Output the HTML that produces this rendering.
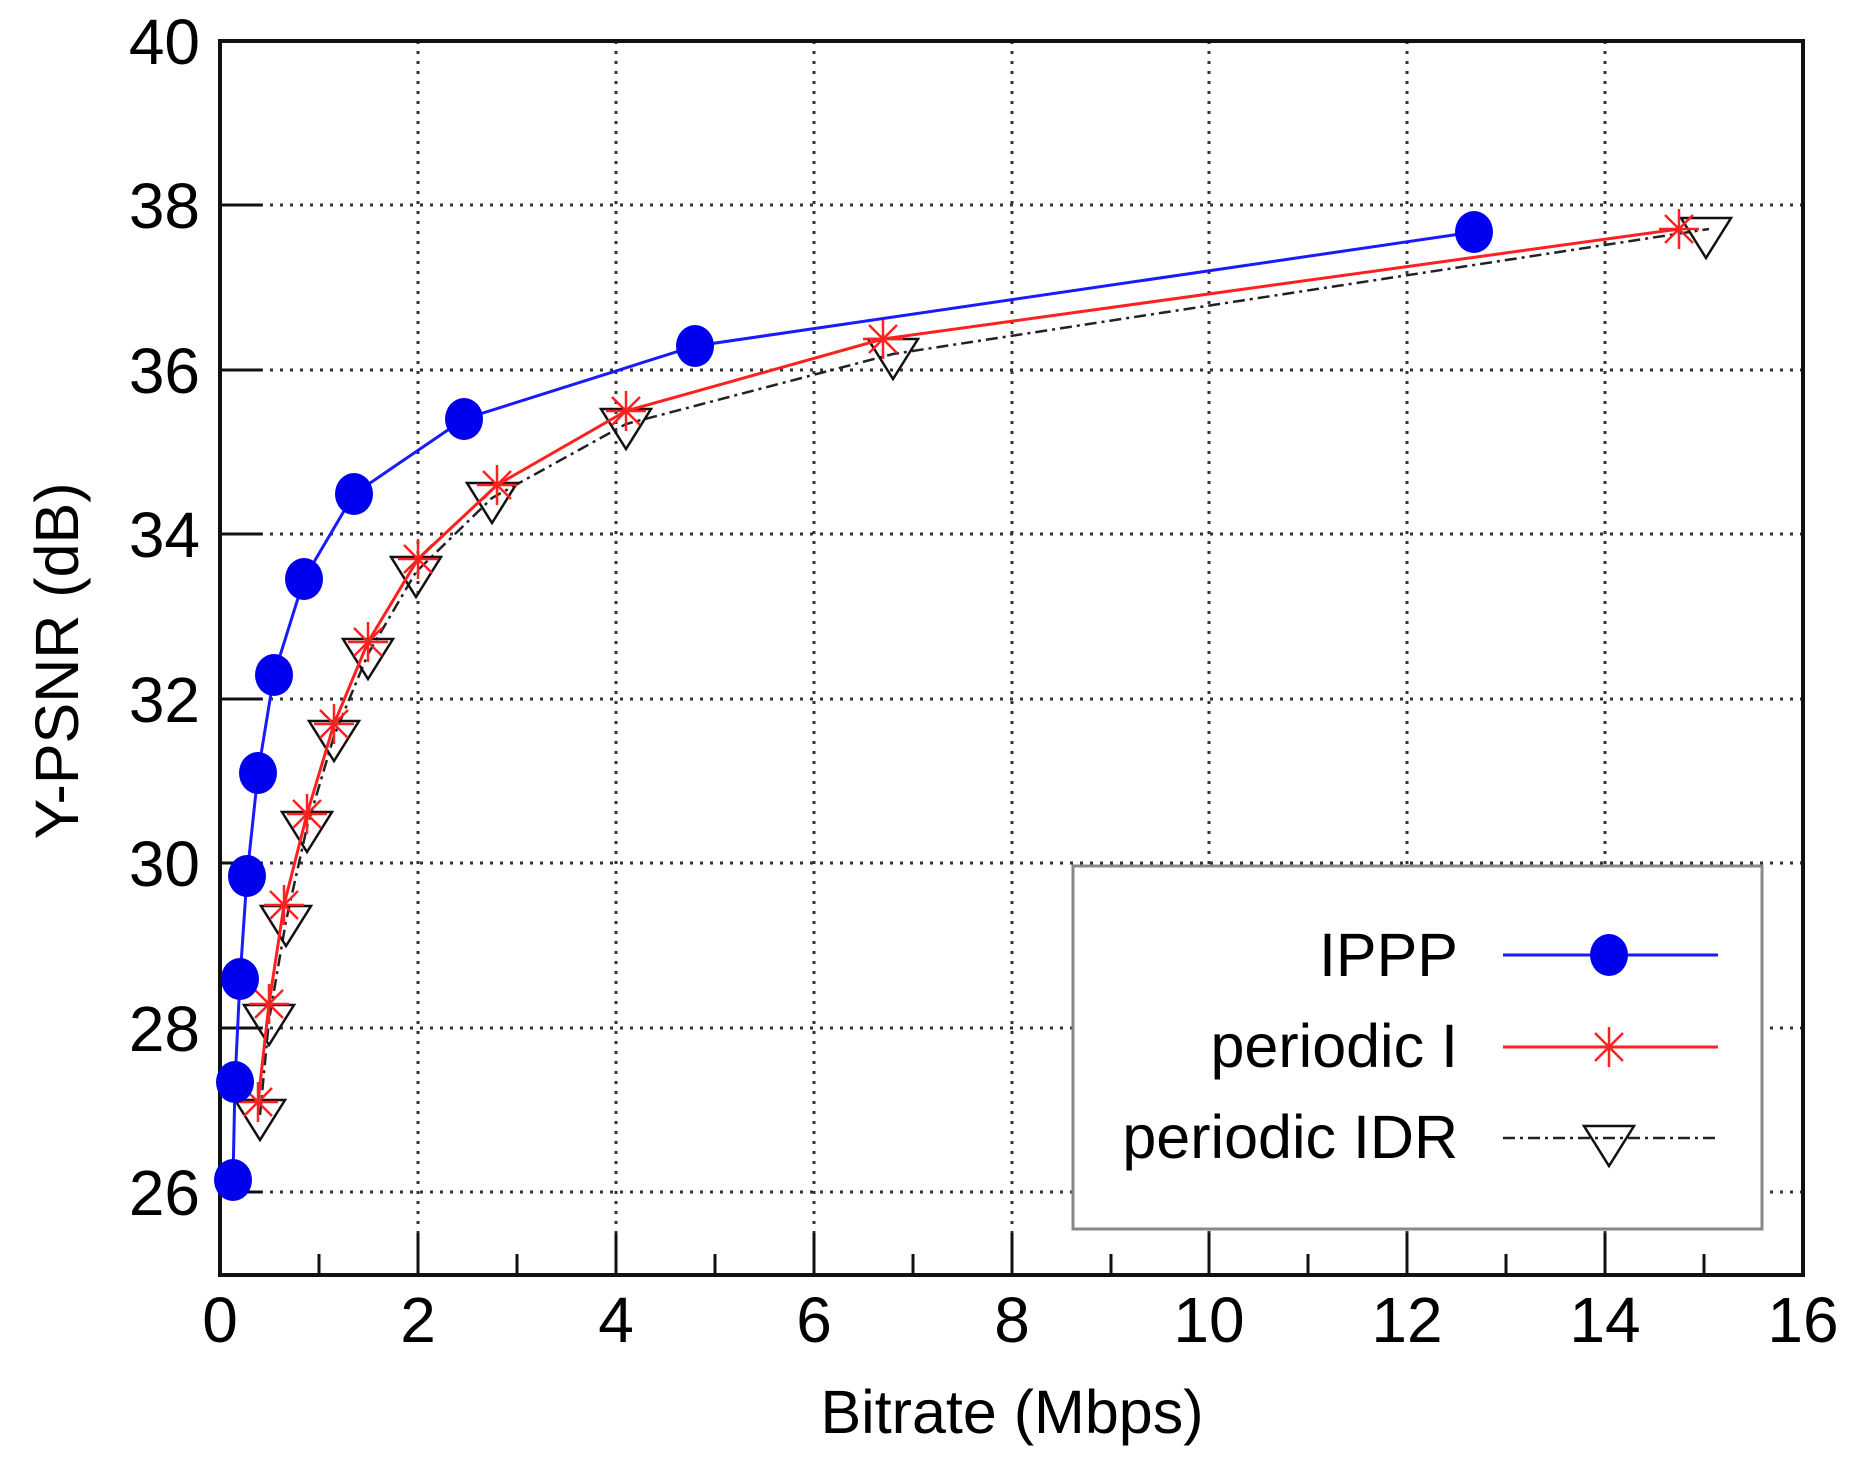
<!DOCTYPE html>
<html><head><meta charset="utf-8"><style>
html,body{margin:0;padding:0;background:#fff;}
svg{display:block;font-family:"Liberation Sans",Arial,sans-serif;}
</style></head><body>
<svg width="1857" height="1483" viewBox="0 0 1857 1483" xmlns="http://www.w3.org/2000/svg">
<defs>
<g id="star"><g stroke="#ff2020" stroke-width="2.5" fill="none"><line x1="-20" y1="0" x2="20" y2="0"/><line x1="0" y1="-20" x2="0" y2="20"/><line x1="-14" y1="-14" x2="14" y2="14"/><line x1="-14" y1="14" x2="14" y2="-14"/></g></g>
<g id="tri"><polygon points="-25,-15 25,-15 0,25" fill="none" stroke="#111" stroke-width="2.5"/></g>
</defs>
<rect width="1857" height="1483" fill="#fff"/>
<g id="grid" stroke="#333" stroke-width="3" stroke-dasharray="3 7" fill="none">
<line x1="418" y1="41" x2="418" y2="1275"/><line x1="616" y1="41" x2="616" y2="1275"/><line x1="814" y1="41" x2="814" y2="1275"/><line x1="1012" y1="41" x2="1012" y2="1275"/><line x1="1209" y1="41" x2="1209" y2="1275"/><line x1="1407" y1="41" x2="1407" y2="1275"/><line x1="1605" y1="41" x2="1605" y2="1275"/>
<line x1="220" y1="205" x2="1803" y2="205"/><line x1="220" y1="370" x2="1803" y2="370"/><line x1="220" y1="534" x2="1803" y2="534"/><line x1="220" y1="699" x2="1803" y2="699"/><line x1="220" y1="863" x2="1803" y2="863"/><line x1="220" y1="1028" x2="1803" y2="1028"/><line x1="220" y1="1192" x2="1803" y2="1192"/>
</g>
<g stroke="#111" stroke-width="3">
<line x1="220" y1="205" x2="262" y2="205"/><line x1="220" y1="370" x2="262" y2="370"/><line x1="220" y1="534" x2="262" y2="534"/><line x1="220" y1="699" x2="262" y2="699"/><line x1="220" y1="863" x2="262" y2="863"/><line x1="220" y1="1028" x2="262" y2="1028"/><line x1="220" y1="1192" x2="262" y2="1192"/>
<line x1="418" y1="1275" x2="418" y2="1233"/><line x1="616" y1="1275" x2="616" y2="1233"/><line x1="814" y1="1275" x2="814" y2="1233"/><line x1="1012" y1="1275" x2="1012" y2="1233"/><line x1="1209" y1="1275" x2="1209" y2="1233"/><line x1="1407" y1="1275" x2="1407" y2="1233"/><line x1="1605" y1="1275" x2="1605" y2="1233"/>
<line x1="319" y1="1275" x2="319" y2="1254"/><line x1="517" y1="1275" x2="517" y2="1254"/><line x1="715" y1="1275" x2="715" y2="1254"/><line x1="913" y1="1275" x2="913" y2="1254"/><line x1="1111" y1="1275" x2="1111" y2="1254"/><line x1="1308" y1="1275" x2="1308" y2="1254"/><line x1="1506" y1="1275" x2="1506" y2="1254"/><line x1="1704" y1="1275" x2="1704" y2="1254"/>
</g>
<rect x="220" y="41" width="1583" height="1234" fill="none" stroke="#111" stroke-width="4"/>
<g font-size="64" fill="#000" text-anchor="end">
<text x="200" y="64">40</text><text x="200" y="228">38</text><text x="200" y="393">36</text><text x="200" y="557">34</text><text x="200" y="722">32</text><text x="200" y="886">30</text><text x="200" y="1051">28</text><text x="200" y="1215">26</text>
</g>
<g font-size="64" fill="#000" text-anchor="middle">
<text x="220" y="1342">0</text><text x="418" y="1342">2</text><text x="616" y="1342">4</text><text x="814" y="1342">6</text><text x="1012" y="1342">8</text><text x="1209" y="1342">10</text><text x="1407" y="1342">12</text><text x="1605" y="1342">14</text><text x="1803" y="1342">16</text>
</g>
<g font-size="61" fill="#000" text-anchor="middle">
<text x="1012" y="1433">Bitrate (Mbps)</text>
<text transform="translate(78,661) rotate(-90)">Y-PSNR (dB)</text>
</g>
<!-- IDR -->
<polyline fill="none" stroke="#222" stroke-width="2.5" stroke-dasharray="12 5 3 5" points="260,1115 269,1020 286,921 307,827 334,736 368,654 416,572 492,498 626,424 893,354 1709,229"/>
<g>
<use href="#tri" x="260" y="1115"/><use href="#tri" x="269" y="1020"/><use href="#tri" x="286" y="921"/><use href="#tri" x="307" y="827"/><use href="#tri" x="334" y="736"/><use href="#tri" x="368" y="654"/><use href="#tri" x="416" y="572"/><use href="#tri" x="492" y="498"/><use href="#tri" x="626" y="424"/><use href="#tri" x="893" y="354"/><use href="#tri" x="1706" y="233"/>
</g>
<!-- periodic I -->
<polyline fill="none" stroke="#ff2020" stroke-width="3" points="258,1102 269,1004 284,905 307,814 334,724 368,642 418,559 497,485 626,411 883,339 1679,229"/>
<g>
<use href="#star" x="258" y="1102"/><use href="#star" x="269" y="1004"/><use href="#star" x="284" y="905"/><use href="#star" x="307" y="814"/><use href="#star" x="334" y="724"/><use href="#star" x="368" y="642"/><use href="#star" x="418" y="559"/><use href="#star" x="497" y="485"/><use href="#star" x="626" y="411"/><use href="#star" x="883" y="339"/><use href="#star" x="1679" y="229"/>
</g>
<!-- IPPP -->
<polyline fill="none" stroke="#1a1aff" stroke-width="3" points="233,1180 235,1082 240,979 247,876 258,773 274,675 304,579 354,494 464,419 695,346 1474,232"/>
<g fill="#0000ee">
<ellipse cx="233" cy="1180" rx="19" ry="21"/><ellipse cx="235" cy="1082" rx="19" ry="21"/><ellipse cx="240" cy="979" rx="19" ry="21"/><ellipse cx="247" cy="876" rx="19" ry="21"/><ellipse cx="258" cy="773" rx="19" ry="21"/><ellipse cx="274" cy="675" rx="19" ry="21"/><ellipse cx="304" cy="579" rx="19" ry="21"/><ellipse cx="354" cy="494" rx="19" ry="21"/><ellipse cx="464" cy="419" rx="19" ry="21"/><ellipse cx="695" cy="346" rx="19" ry="21"/><ellipse cx="1474" cy="232" rx="19" ry="21"/>
</g>
<!-- legend -->
<rect x="1073" y="866" width="689" height="363" fill="#fff" stroke="#888" stroke-width="3"/>
<g font-size="61" fill="#000" text-anchor="end">
<text x="1458" y="976">IPPP</text><text x="1458" y="1067">periodic I</text><text x="1458" y="1158">periodic IDR</text>
</g>
<line x1="1503" y1="955" x2="1718" y2="955" stroke="#1a1aff" stroke-width="3"/>
<ellipse cx="1609" cy="955" rx="19" ry="21" fill="#0000ee"/>
<line x1="1503" y1="1047" x2="1718" y2="1047" stroke="#ff2020" stroke-width="3"/>
<use href="#star" x="1609" y="1047"/>
<line x1="1503" y1="1138" x2="1718" y2="1138" stroke="#222" stroke-width="2.5" stroke-dasharray="12 5 3 5"/>
<use href="#tri" x="1609" y="1141"/>
</svg>
</body></html>
